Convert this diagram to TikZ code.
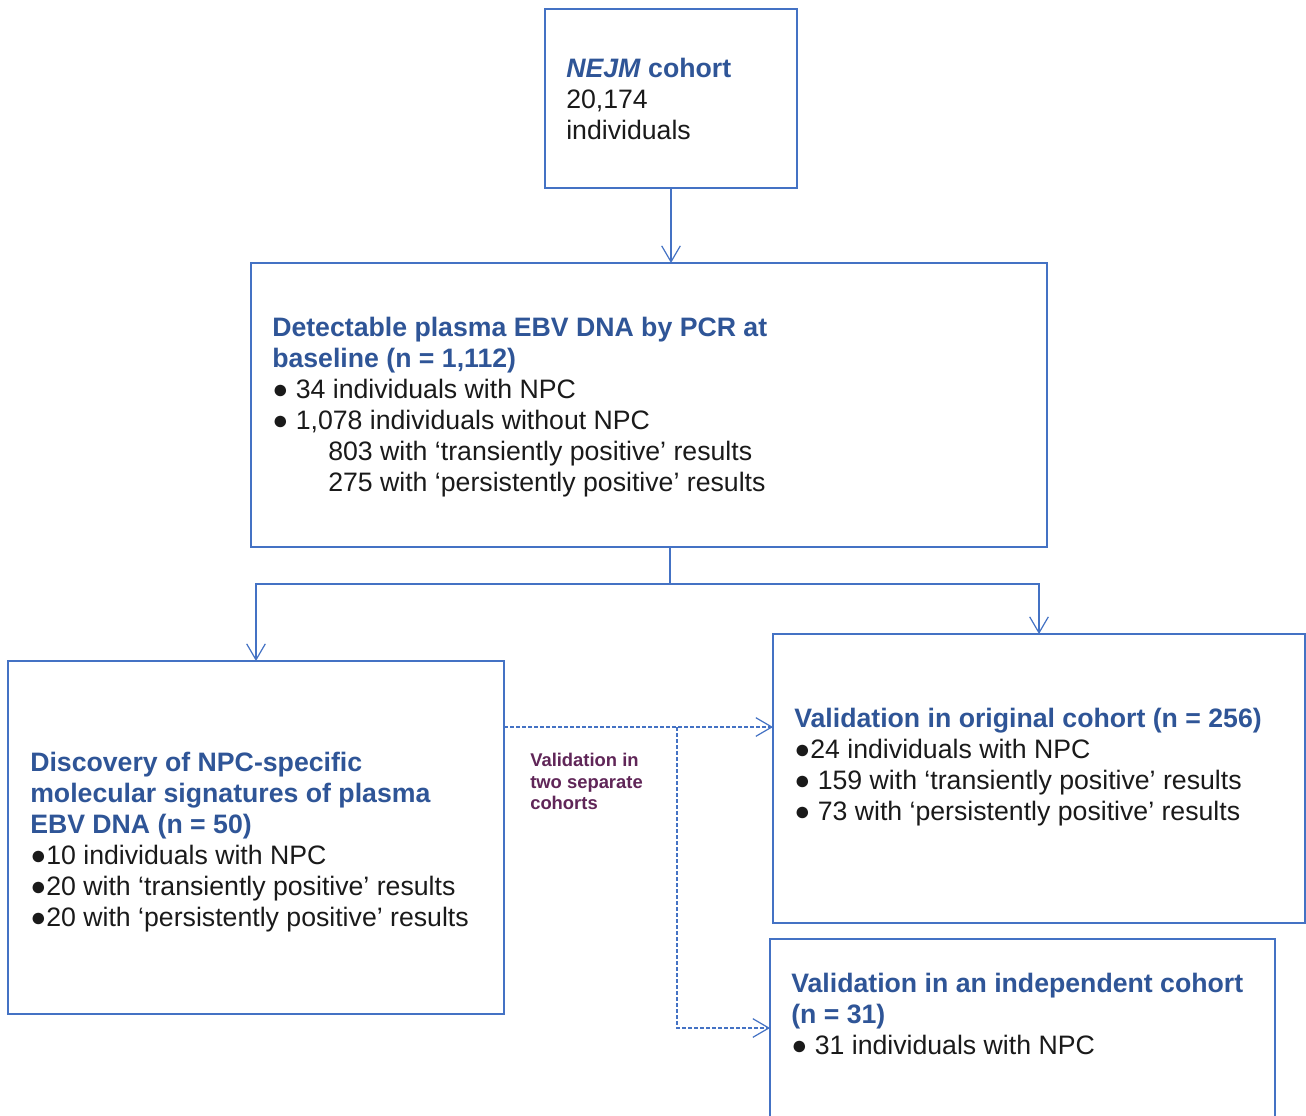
\documentclass[tikz,border=0pt]{standalone}
\usepackage{fontspec}
\setmainfont{Liberation Sans}
\usetikzlibrary{arrows.meta}
\definecolor{boxblue}{RGB}{68,114,196}
\definecolor{titleblue}{RGB}{47,85,151}
\definecolor{txt}{RGB}{26,26,26}
\definecolor{lbl}{RGB}{96,38,88}
\begin{document}
\begin{tikzpicture}[x=0.75pt,y=-0.75pt,
  box/.style={draw=boxblue,line width=1.5pt,inner sep=0,outer sep=0,anchor=north west},
  body/.style={anchor=north west,inner sep=0,align=left,text=txt,font=\fontsize{20}{23.25}\selectfont},
  conn/.style={draw=boxblue,line width=0.9pt,-{Straight Barb[length=12pt,width=14pt]}},
  dconn/.style={draw=boxblue,line width=0.9pt,dash pattern=on 3pt off 1.5pt,-{Straight Barb[length=12pt,width=14pt]}}]
\clip (0,0) rectangle (1306,1115);
\fill[white] (0,0) rectangle (1306,1115);
% boxes
\node[box,minimum width=189pt,minimum height=134.25pt] (top) at (545,9) {};
\node[box,minimum width=597pt,minimum height=213pt] (det) at (251,263) {};
\node[box,minimum width=372pt,minimum height=264.75pt] (disc) at (8,661) {};
\node[box,minimum width=399pt,minimum height=216.75pt] (val1) at (773,634) {};
\node[box,minimum width=378.75pt,minimum height=150pt] (val2) at (770,939) {};
% texts
\node[body] (toptext) at (566,58) {{\color{titleblue}\bfseries\textit{NEJM} cohort}\\20,174\\individuals};
\node[body] (dettext) at (272,317) {{\color{titleblue}\bfseries Detectable plasma EBV DNA by PCR at}\\
{\color{titleblue}\bfseries baseline (n = 1,112)}\\
● 34 individuals with NPC\\
● 1,078 individuals without NPC\\
\hspace*{42pt}803 with ‘transiently positive’ results\\
\hspace*{42pt}275 with ‘persistently positive’ results};
\node[body] (disctext) at (30,752) {{\color{titleblue}\bfseries Discovery of NPC-specific}\\
{\color{titleblue}\bfseries molecular signatures of plasma}\\
{\color{titleblue}\bfseries EBV DNA (n = 50)}\\
●10 individuals with NPC\\
●20 with ‘transiently positive’ results\\
●20 with ‘persistently positive’ results};
\node[body] (val1text) at (794,708) {{\color{titleblue}\bfseries Validation in original cohort (n = 256)}\\
●24 individuals with NPC\\
● 159 with ‘transiently positive’ results\\
● 73 with ‘persistently positive’ results};
\node[body] (val2text) at (791,973) {{\color{titleblue}\bfseries Validation in an independent cohort}\\
{\color{titleblue}\bfseries (n = 31)}\\
● 31 individuals with NPC};
\node[anchor=north west,inner sep=0,align=left,text=lbl,font=\fontsize{13.8}{16.2}\selectfont\bfseries] (lab) at (530,753) {Validation in\\two separate\\cohorts};
% connectors
\coordinate (j) at (670,584);
\draw[conn] (top.south) -- (top.south |- det.north);
\draw[draw=boxblue,line width=0.9pt] (det.south -| j) -- (j);
\draw[conn] (j) -| (disc.north);
\draw[conn] (j) -| (val1.north);
\coordinate (ds) at (504,727);
\coordinate (db) at (677,727);
\coordinate (dv) at (677,1028);
\draw[dconn] (ds) -- (val1.west |- ds);
\draw[dconn] (db) -- (dv) -- (val2.west |- dv);
\end{tikzpicture}
\end{document}
